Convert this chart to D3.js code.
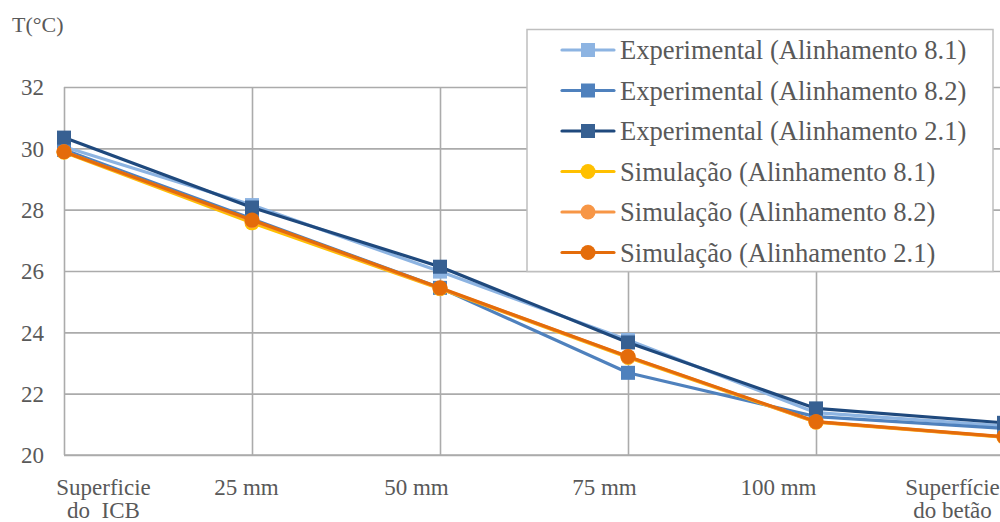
<!DOCTYPE html>
<html>
<head>
<meta charset="utf-8">
<script src="https://cdn.jsdelivr.net/npm/d3@7"></script>
<style>
  html, body { margin: 0; padding: 0; background: #fff; overflow: hidden; }
  text { font-family: "Liberation Serif", "Times New Roman", serif; fill: #595959; }
</style>
</head>
<body>
<svg id="chart" width="1000" height="522"></svg>
<script>
// Measurement positions along the section (two-line labels are split into rows)
const categories = ["Superficie do ICB", "25 mm", "50 mm", "75 mm", "100 mm", "Superfície do betão"];
const categoryLines = [["Superficie", "do  ICB"], ["25 mm"], ["50 mm"], ["75 mm"], ["100 mm"], ["Superfície", "do betão"]];

// Temperature axis ticks (°C)
const yTicks = [20, 22, 24, 26, 28, 30, 32];

// Series names
const seriesNames = [
  "Experimental (Alinhamento 8.1)",
  "Experimental (Alinhamento 8.2)",
  "Experimental (Alinhamento 2.1)",
  "Simulação (Alinhamento 8.1)",
  "Simulação (Alinhamento 8.2)",
  "Simulação (Alinhamento 2.1)"
];

// Temperatures (°C) at each position
const exp81 = [30.05, 28.15, 25.98, 23.75, 21.38, 20.95];
const exp82 = [29.95, 27.70, 25.45, 22.68, 21.25, 20.87];
const exp21 = [30.35, 28.07, 26.14, 23.67, 21.52, 21.05];
const sim81 = [29.87, 27.57, 25.42, 23.18, 21.07, 20.58];
const sim82 = [29.89, 27.64, 25.44, 23.20, 21.08, 20.59];
const sim21 = [29.89, 27.66, 25.45, 23.21, 21.09, 20.60];

const seriesValues = [exp81, exp82, exp21, sim81, sim82, sim21];

// Styling
const lineColors   = ["#8DB4E2", "#4F81BD", "#1F497D", "#FFC000", "#F79646", "#E46C0A"];
const markerColors = ["#8DB4E2", "#4F81BD", "#376092", "#FFC000", "#F79646", "#E46C0A"];
const markerShapes = ["square", "square", "square", "circle", "circle", "circle"];

// Layout
const plotLeft = 64, plotRight = 1004, plotTop = 87, plotBottom = 455;
const gridColor = "#ABABAB";
const labelNudge = [39, -6, -24, -24, -38, -52];

const svg = d3.select("#chart");

const x = d3.scalePoint().domain(categories).range([plotLeft, plotRight]);
const y = d3.scaleLinear().domain([20, 32]).range([plotBottom, plotTop]);

// Horizontal gridlines + temperature labels
const yAxis = svg.append("g")
  .attr("transform", `translate(${plotLeft},0)`)
  .call(d3.axisLeft(y).tickValues(yTicks).tickSize(-(plotRight - plotLeft)).tickPadding(20).tickFormat(d3.format("d")));
yAxis.select(".domain").remove();
yAxis.selectAll(".tick line").attr("stroke", gridColor).attr("stroke-width", 1.6);
yAxis.selectAll(".tick text")
  .attr("font-size", 23)
  .attr("font-family", "Liberation Serif")
  .attr("fill", "#595959")
  .attr("dy", "0.34em");

// Vertical gridlines + position labels
const xAxis = svg.append("g")
  .attr("transform", `translate(0,${plotBottom})`)
  .call(d3.axisBottom(x).tickSize(-(plotBottom - plotTop)).tickFormat(""));
xAxis.select(".domain").remove();
xAxis.selectAll(".tick line").attr("stroke", gridColor).attr("stroke-width", 1.6);

xAxis.selectAll(".tick").each(function(d, i) {
  categoryLines[i].forEach((ln, j) => {
    d3.select(this).append("text")
      .attr("text-anchor", "middle")
      .attr("font-size", 23)
      .attr("fill", "#595959")
      .attr("x", labelNudge[i])
      .attr("y", 40 + j * 23)
      .style("white-space", "pre")
      .text(ln);
  });
});

// Bottom axis line
svg.append("line")
  .attr("x1", plotLeft).attr("x2", plotRight)
  .attr("y1", plotBottom).attr("y2", plotBottom)
  .attr("stroke", gridColor).attr("stroke-width", 1.6);

// Unit label
svg.append("text")
  .attr("x", 12).attr("y", 32)
  .attr("font-size", 22)
  .text("T(°C)");

// Series lines and markers
const line = d3.line()
  .x((d, i) => x(categories[i]))
  .y(d => y(d));

function drawMarker(g, shape, cx, cy, color, size) {
  if (shape === "square") {
    g.append("rect")
      .attr("x", cx - size / 2).attr("y", cy - size / 2)
      .attr("width", size).attr("height", size)
      .attr("fill", color);
  } else {
    g.append("circle")
      .attr("cx", cx).attr("cy", cy)
      .attr("r", size / 2 + 0.5)
      .attr("fill", color);
  }
}

seriesValues.forEach((vals, s) => {
  const g = svg.append("g");
  g.append("path")
    .datum(vals)
    .attr("d", line)
    .attr("fill", "none")
    .attr("stroke", lineColors[s])
    .attr("stroke-width", 3.2)
    .attr("stroke-linejoin", "round")
    .attr("stroke-linecap", "round");
  vals.forEach((v, i) => drawMarker(g, markerShapes[s], x(categories[i]), y(v), markerColors[s], 14));
});

// Legend
const legend = svg.append("g");
legend.append("rect")
  .attr("x", 527).attr("y", 29.5)
  .attr("width", 466).attr("height", 242)
  .attr("fill", "#fff")
  .attr("stroke", "#BFBFBF")
  .attr("stroke-width", 1.5);

seriesNames.forEach((name, s) => {
  const cy = 50 + s * 40.5;
  const row = legend.append("g");
  row.append("line")
    .attr("x1", 562).attr("x2", 614)
    .attr("y1", cy).attr("y2", cy)
    .attr("stroke", lineColors[s])
    .attr("stroke-width", 3.2)
    .attr("stroke-linecap", "round");
  drawMarker(row, markerShapes[s], 588, cy, markerColors[s], 14);
  row.append("text")
    .attr("x", 620).attr("y", cy + 9)
    .attr("font-size", 26.6)
    .text(name);
});
</script>
</body>
</html>
